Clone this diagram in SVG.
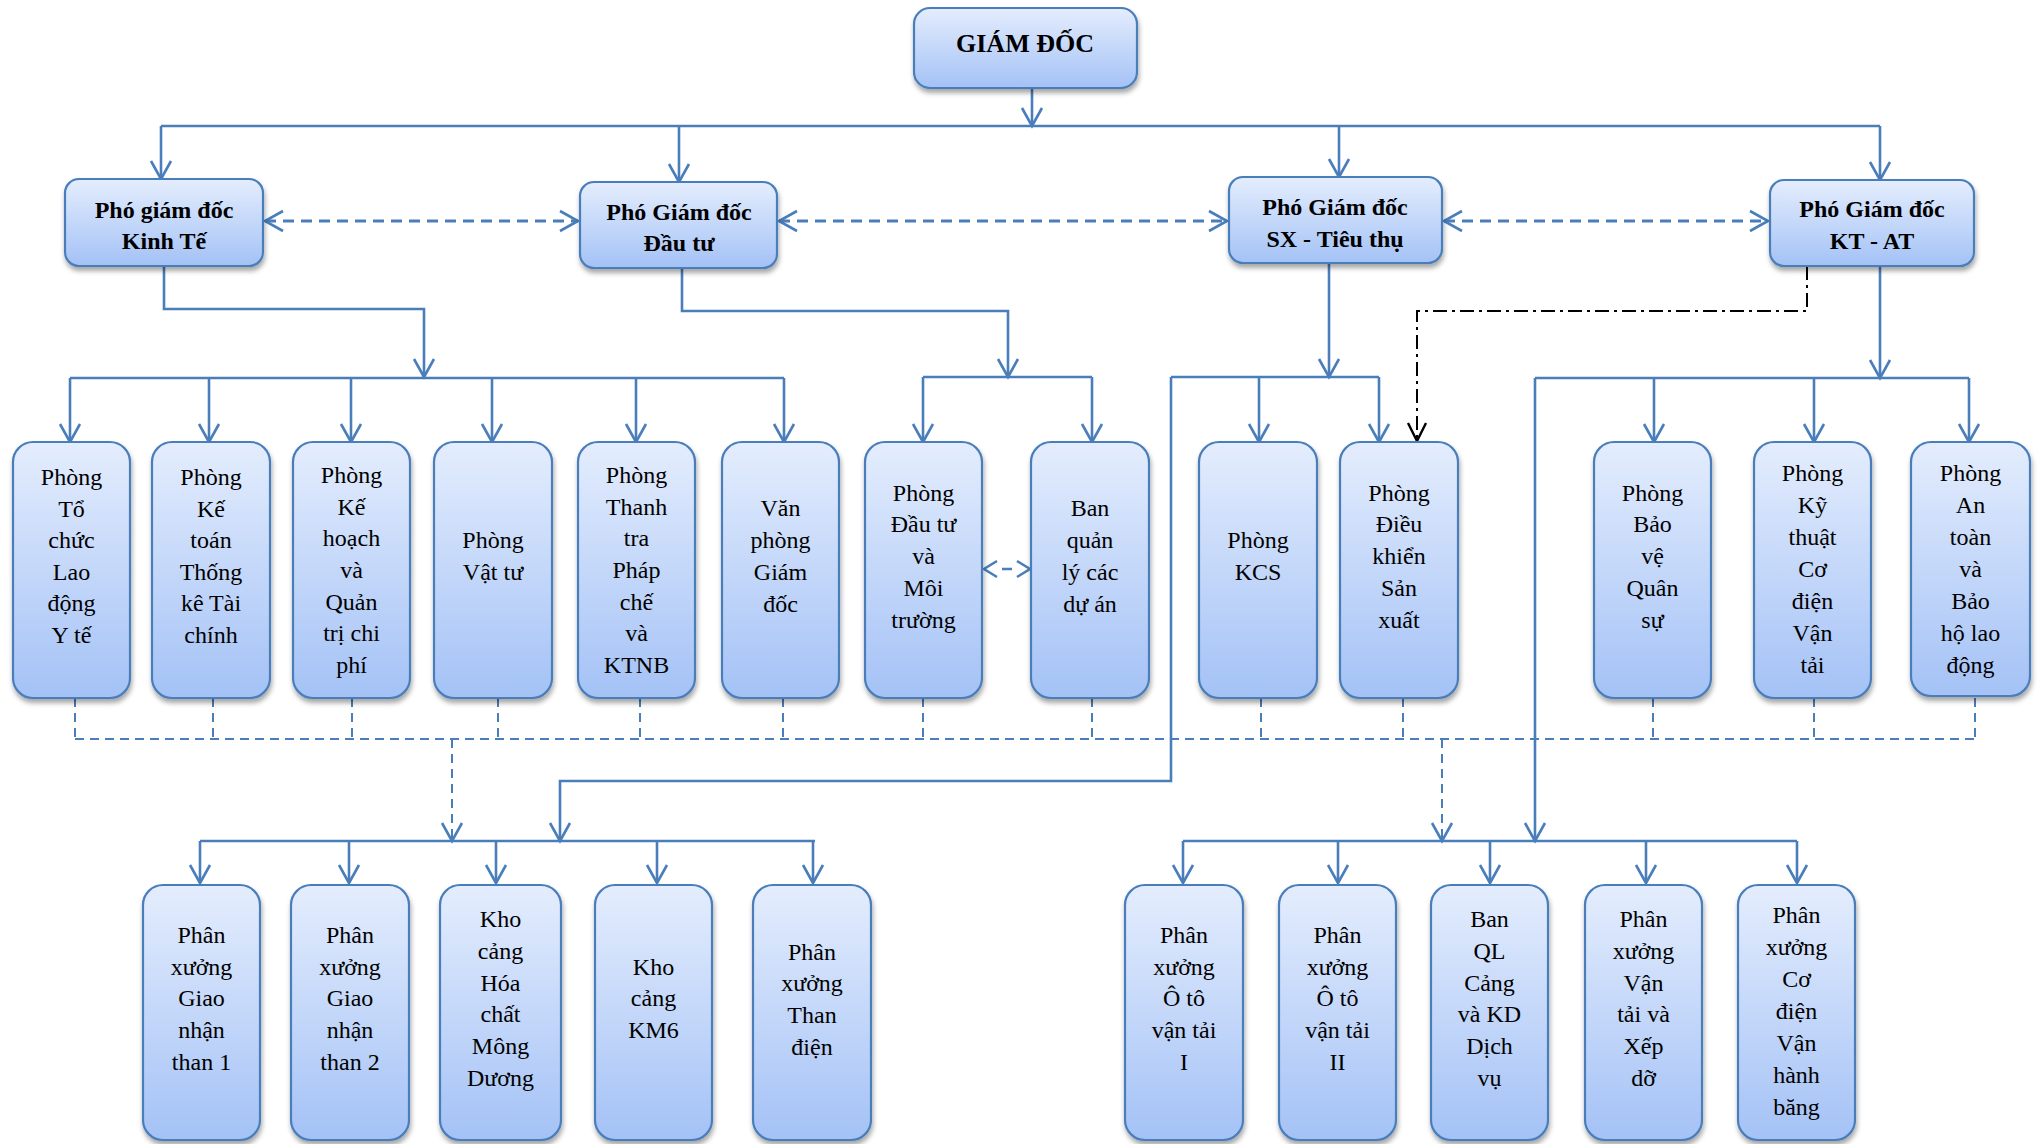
<svg xmlns="http://www.w3.org/2000/svg" width="2040" height="1144" viewBox="0 0 2040 1144">
<defs>
<linearGradient id="g" x1="0" y1="0" x2="0" y2="1">
<stop offset="0" stop-color="#e4edfd"/>
<stop offset="1" stop-color="#a4c2f6"/>
</linearGradient>
<filter id="sh" x="-20%" y="-20%" width="140%" height="140%">
<feDropShadow dx="1" dy="4" stdDeviation="2.5" flood-color="#000" flood-opacity="0.35"/>
</filter>
<marker id="a" viewBox="-22 -14 26 28" refX="0" refY="0" markerWidth="26" markerHeight="28" markerUnits="userSpaceOnUse" orient="auto-start-reverse">
<path d="M-18,-10 L0,0 L-18,10" fill="none" stroke="#4a7ebb" stroke-width="2.6"/>
</marker>
<marker id="ak" viewBox="-22 -14 26 28" refX="0" refY="0" markerWidth="26" markerHeight="28" markerUnits="userSpaceOnUse" orient="auto">
<path d="M-18,-9 L0,0 L-18,9" fill="none" stroke="#000" stroke-width="2.4"/>
</marker>
</defs>
<style>
.box{fill:url(#g);stroke:#4a7ebb;stroke-width:2.2;filter:url(#sh)}
.t{font-family:"Liberation Serif","Times New Roman",serif;font-size:24px;text-anchor:middle;fill:#000}
.b{font-weight:bold}
.c{fill:none;stroke:#4a7ebb;stroke-width:2.6}
.ar{marker-end:url(#a)}
.dbl{marker-start:url(#a);marker-end:url(#a)}
.d{stroke-dasharray:11 7;stroke-width:3}
.d2{stroke-dasharray:9 6;stroke-width:2}
.dd{fill:none;stroke:#000;stroke-width:2;stroke-dasharray:14 5 3 5;marker-end:url(#ak)}
</style>
<rect width="2040" height="1144" fill="#fff"/>

<g id="connectors">
<path class="c ar" d="M1032,88 V126"/>
<path class="c" d="M161,126 H1880"/>
<path class="c ar" d="M161,126 V179"/>
<path class="c ar" d="M679,126 V182"/>
<path class="c ar" d="M1339,126 V177"/>
<path class="c ar" d="M1880,126 V180"/>
<path class="c d dbl" d="M265,221 H578"/>
<path class="c d dbl" d="M779,221 H1227"/>
<path class="c d dbl" d="M1444,221 H1768"/>
<path class="c ar" d="M164,266 V309 H424 V377"/>
<path class="c" d="M70,378 H784"/>
<path class="c ar" d="M70,378 V442"/>
<path class="c ar" d="M209,378 V442"/>
<path class="c ar" d="M351,378 V442"/>
<path class="c ar" d="M492,378 V442"/>
<path class="c ar" d="M636,378 V442"/>
<path class="c ar" d="M784,378 V442"/>
<path class="c ar" d="M682,268 V311 H1008 V377"/>
<path class="c" d="M923,377 H1092"/>
<path class="c ar" d="M923,377 V442"/>
<path class="c ar" d="M1092,377 V442"/>
<path class="c ar" d="M1329,263 V377"/>
<path class="c" d="M1171,377 H1379"/>
<path class="c ar" d="M1259,377 V442"/>
<path class="c ar" d="M1379,377 V442"/>
<path class="c ar" d="M1171,377 V781 H560 V841"/>
<path class="c ar" d="M1880,266 V378"/>
<path class="c" d="M1535,378 H1969"/>
<path class="c ar" d="M1654,378 V442"/>
<path class="c ar" d="M1814,378 V442"/>
<path class="c ar" d="M1969,378 V442"/>
<path class="c ar" d="M1535,378 V841"/>
<path class="dd" d="M1807,266 V311 H1417 V441"/>
<path class="c" d="M997,561 L984,569 L997,577 M1017,561 L1030,569 L1017,577 M1002,569 H1012"/>
<path class="c d2" d="M75,698 V739 M213,698 V739 M352,698 V739 M498,698 V739 M640,698 V739 M783,698 V739 M923,698 V739 M1092,698 V739 M1261,698 V739 M1403,698 V739 M1653,698 V739 M1814,698 V739 M1975,698 V739"/>
<path class="c d2" d="M75,739 H1975"/>
<path class="c d2 ar" d="M452,739 V841"/>
<path class="c d2 ar" d="M1442,739 V841"/>
<path class="c" d="M200,841 H815"/>
<path class="c ar" d="M200,841 V883"/>
<path class="c ar" d="M349,841 V883"/>
<path class="c ar" d="M496,841 V883"/>
<path class="c ar" d="M657,841 V883"/>
<path class="c ar" d="M813,841 V883"/>
<path class="c" d="M1183,841 H1797"/>
<path class="c ar" d="M1183,841 V883"/>
<path class="c ar" d="M1338,841 V883"/>
<path class="c ar" d="M1490,841 V883"/>
<path class="c ar" d="M1646,841 V883"/>
<path class="c ar" d="M1797,841 V883"/>
</g>

<g id="giam-doc">
<rect class="box" x="914" y="8" width="223" height="80" rx="16"/>
<text class="t b" x="1025" y="52" style="font-size:26px">GIÁM ĐỐC</text>
</g>
<g id="pgd-kinh-te">
<rect class="box" x="65" y="179" width="198" height="87" rx="14"/>
<text class="t b"><tspan x="164" y="218">Phó giám đốc</tspan><tspan x="164" y="249">Kinh Tế</tspan></text>
</g>
<g id="pgd-dau-tu">
<rect class="box" x="580" y="182" width="197" height="86" rx="14"/>
<text class="t b"><tspan x="679" y="220">Phó Giám đốc</tspan><tspan x="679" y="251">Đầu tư</tspan></text>
</g>
<g id="pgd-sx">
<rect class="box" x="1229" y="177" width="213" height="86" rx="14"/>
<text class="t b"><tspan x="1335" y="215">Phó Giám đốc</tspan><tspan x="1335" y="247">SX - Tiêu thụ</tspan></text>
</g>
<g id="pgd-ktat">
<rect class="box" x="1770" y="180" width="204" height="86" rx="14"/>
<text class="t b"><tspan x="1872" y="217">Phó Giám đốc</tspan><tspan x="1872" y="249">KT - AT</tspan></text>
</g>

<g id="p-to-chuc">
<rect class="box" x="13" y="442" width="117" height="256" rx="20"/>
<text class="t"><tspan x="71.5" y="485">Phòng</tspan><tspan x="71.5" y="517">Tổ</tspan><tspan x="71.5" y="548">chức</tspan><tspan x="71.5" y="580">Lao</tspan><tspan x="71.5" y="611">động</tspan><tspan x="71.5" y="643">Y tế</tspan></text>
</g>
<g id="p-ke-toan">
<rect class="box" x="152" y="442" width="118" height="256" rx="20"/>
<text class="t"><tspan x="211" y="485">Phòng</tspan><tspan x="211" y="517">Kế</tspan><tspan x="211" y="548">toán</tspan><tspan x="211" y="580">Thống</tspan><tspan x="211" y="611">kê Tài</tspan><tspan x="211" y="643">chính</tspan></text>
</g>
<g id="p-ke-hoach">
<rect class="box" x="293" y="442" width="117" height="256" rx="20"/>
<text class="t"><tspan x="351.5" y="483">Phòng</tspan><tspan x="351.5" y="515">Kế</tspan><tspan x="351.5" y="546">hoạch</tspan><tspan x="351.5" y="578">và</tspan><tspan x="351.5" y="610">Quản</tspan><tspan x="351.5" y="641">trị chi</tspan><tspan x="351.5" y="673">phí</tspan></text>
</g>
<g id="p-vat-tu">
<rect class="box" x="434" y="442" width="118" height="256" rx="20"/>
<text class="t"><tspan x="493" y="548">Phòng</tspan><tspan x="493" y="580">Vật tư</tspan></text>
</g>
<g id="p-thanh-tra">
<rect class="box" x="578" y="442" width="117" height="256" rx="20"/>
<text class="t"><tspan x="636.5" y="483">Phòng</tspan><tspan x="636.5" y="515">Thanh</tspan><tspan x="636.5" y="546">tra</tspan><tspan x="636.5" y="578">Pháp</tspan><tspan x="636.5" y="610">chế</tspan><tspan x="636.5" y="641">và</tspan><tspan x="636.5" y="673">KTNB</tspan></text>
</g>
<g id="van-phong">
<rect class="box" x="722" y="442" width="117" height="256" rx="20"/>
<text class="t"><tspan x="780.5" y="516">Văn</tspan><tspan x="780.5" y="548">phòng</tspan><tspan x="780.5" y="580">Giám</tspan><tspan x="780.5" y="612">đốc</tspan></text>
</g>
<g id="p-dau-tu">
<rect class="box" x="865" y="442" width="117" height="256" rx="20"/>
<text class="t"><tspan x="923.5" y="501">Phòng</tspan><tspan x="923.5" y="532">Đầu tư</tspan><tspan x="923.5" y="564">và</tspan><tspan x="923.5" y="596">Môi</tspan><tspan x="923.5" y="628">trường</tspan></text>
</g>
<g id="ban-ql-du-an">
<rect class="box" x="1031" y="442" width="118" height="256" rx="20"/>
<text class="t"><tspan x="1090" y="516">Ban</tspan><tspan x="1090" y="548">quản</tspan><tspan x="1090" y="580">lý các</tspan><tspan x="1090" y="612">dự án</tspan></text>
</g>
<g id="p-kcs">
<rect class="box" x="1199" y="442" width="118" height="256" rx="20"/>
<text class="t"><tspan x="1258" y="548">Phòng</tspan><tspan x="1258" y="580">KCS</tspan></text>
</g>
<g id="p-dieu-khien">
<rect class="box" x="1340" y="442" width="118" height="256" rx="20"/>
<text class="t"><tspan x="1399" y="501">Phòng</tspan><tspan x="1399" y="532">Điều</tspan><tspan x="1399" y="564">khiển</tspan><tspan x="1399" y="596">Sản</tspan><tspan x="1399" y="628">xuất</tspan></text>
</g>
<g id="p-bao-ve">
<rect class="box" x="1594" y="442" width="117" height="256" rx="20"/>
<text class="t"><tspan x="1652.5" y="501">Phòng</tspan><tspan x="1652.5" y="532">Bảo</tspan><tspan x="1652.5" y="564">vệ</tspan><tspan x="1652.5" y="596">Quân</tspan><tspan x="1652.5" y="628">sự</tspan></text>
</g>
<g id="p-ky-thuat">
<rect class="box" x="1754" y="442" width="117" height="256" rx="20"/>
<text class="t"><tspan x="1812.5" y="481">Phòng</tspan><tspan x="1812.5" y="513">Kỹ</tspan><tspan x="1812.5" y="545">thuật</tspan><tspan x="1812.5" y="577">Cơ</tspan><tspan x="1812.5" y="609">điện</tspan><tspan x="1812.5" y="641">Vận</tspan><tspan x="1812.5" y="673">tải</tspan></text>
</g>
<g id="p-an-toan">
<rect class="box" x="1911" y="442" width="119" height="254" rx="20"/>
<text class="t"><tspan x="1970.5" y="481">Phòng</tspan><tspan x="1970.5" y="513">An</tspan><tspan x="1970.5" y="545">toàn</tspan><tspan x="1970.5" y="577">và</tspan><tspan x="1970.5" y="609">Bảo</tspan><tspan x="1970.5" y="641">hộ lao</tspan><tspan x="1970.5" y="673">động</tspan></text>
</g>

<g id="px-giao-nhan-1">
<rect class="box" x="143" y="885" width="117" height="255" rx="20"/>
<text class="t"><tspan x="201.5" y="943">Phân</tspan><tspan x="201.5" y="975">xưởng</tspan><tspan x="201.5" y="1006">Giao</tspan><tspan x="201.5" y="1038">nhận</tspan><tspan x="201.5" y="1070">than 1</tspan></text>
</g>
<g id="px-giao-nhan-2">
<rect class="box" x="291" y="885" width="118" height="255" rx="20"/>
<text class="t"><tspan x="350" y="943">Phân</tspan><tspan x="350" y="975">xưởng</tspan><tspan x="350" y="1006">Giao</tspan><tspan x="350" y="1038">nhận</tspan><tspan x="350" y="1070">than 2</tspan></text>
</g>
<g id="kho-hoa-chat">
<rect class="box" x="440" y="885" width="121" height="255" rx="20"/>
<text class="t"><tspan x="500.5" y="927">Kho</tspan><tspan x="500.5" y="959">cảng</tspan><tspan x="500.5" y="991">Hóa</tspan><tspan x="500.5" y="1022">chất</tspan><tspan x="500.5" y="1054">Mông</tspan><tspan x="500.5" y="1086">Dương</tspan></text>
</g>
<g id="kho-km6">
<rect class="box" x="595" y="885" width="117" height="255" rx="20"/>
<text class="t"><tspan x="653.5" y="975">Kho</tspan><tspan x="653.5" y="1006">cảng</tspan><tspan x="653.5" y="1038">KM6</tspan></text>
</g>
<g id="px-than-dien">
<rect class="box" x="753" y="885" width="118" height="255" rx="20"/>
<text class="t"><tspan x="812" y="960">Phân</tspan><tspan x="812" y="991">xưởng</tspan><tspan x="812" y="1023">Than</tspan><tspan x="812" y="1055">điện</tspan></text>
</g>
<g id="px-oto-1">
<rect class="box" x="1125" y="885" width="118" height="255" rx="20"/>
<text class="t"><tspan x="1184" y="943">Phân</tspan><tspan x="1184" y="975">xưởng</tspan><tspan x="1184" y="1006">Ô tô</tspan><tspan x="1184" y="1038">vận tải</tspan><tspan x="1184" y="1070">I</tspan></text>
</g>
<g id="px-oto-2">
<rect class="box" x="1279" y="885" width="117" height="255" rx="20"/>
<text class="t"><tspan x="1337.5" y="943">Phân</tspan><tspan x="1337.5" y="975">xưởng</tspan><tspan x="1337.5" y="1006">Ô tô</tspan><tspan x="1337.5" y="1038">vận tải</tspan><tspan x="1337.5" y="1070">II</tspan></text>
</g>
<g id="ban-ql-cang">
<rect class="box" x="1431" y="885" width="117" height="255" rx="20"/>
<text class="t"><tspan x="1489.5" y="927">Ban</tspan><tspan x="1489.5" y="959">QL</tspan><tspan x="1489.5" y="991">Cảng</tspan><tspan x="1489.5" y="1022">và KD</tspan><tspan x="1489.5" y="1054">Dịch</tspan><tspan x="1489.5" y="1086">vụ</tspan></text>
</g>
<g id="px-van-tai-xep-do">
<rect class="box" x="1585" y="885" width="117" height="255" rx="20"/>
<text class="t"><tspan x="1643.5" y="927">Phân</tspan><tspan x="1643.5" y="959">xưởng</tspan><tspan x="1643.5" y="991">Vận</tspan><tspan x="1643.5" y="1022">tải và</tspan><tspan x="1643.5" y="1054">Xếp</tspan><tspan x="1643.5" y="1086">dỡ</tspan></text>
</g>
<g id="px-co-dien">
<rect class="box" x="1738" y="885" width="117" height="255" rx="20"/>
<text class="t"><tspan x="1796.5" y="923">Phân</tspan><tspan x="1796.5" y="955">xưởng</tspan><tspan x="1796.5" y="987">Cơ</tspan><tspan x="1796.5" y="1019">điện</tspan><tspan x="1796.5" y="1051">Vận</tspan><tspan x="1796.5" y="1083">hành</tspan><tspan x="1796.5" y="1115">băng</tspan></text>
</g>
</svg>
